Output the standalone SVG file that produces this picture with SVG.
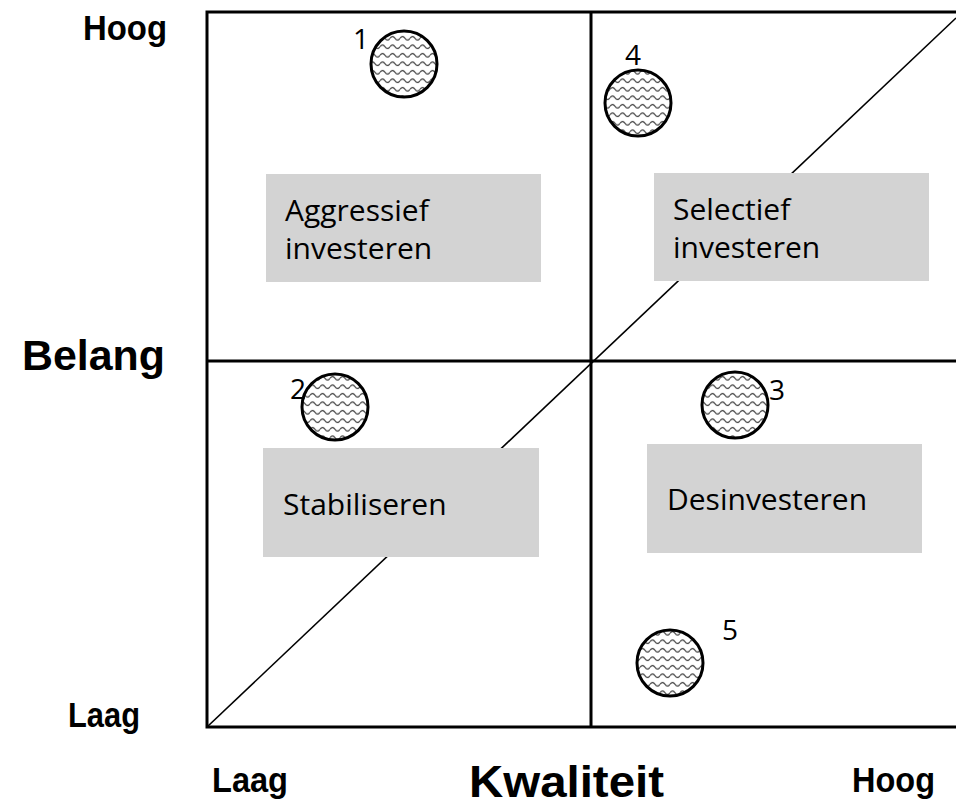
<svg xmlns="http://www.w3.org/2000/svg" width="956" height="805" viewBox="0 0 956 805">
  <style>
    .axis { font-family: "Liberation Sans", Arial, sans-serif; font-weight: bold; fill: #000; }
    .box { fill: #d3d3d3; stroke: none; }
    .boxtxt { font-family: "Open Sans", "DejaVu Sans", sans-serif; font-size: 30px; fill: #000; }
    .num { font-family: "Open Sans", "DejaVu Sans", sans-serif; font-size: 28px; fill: #000; }
    .grid { stroke: #000; stroke-width: 3; fill: none; }
    .diag { stroke: #000; stroke-width: 1.6; fill: none; }
    .dot { fill: url(#wave); stroke: #000; stroke-width: 3; }
  </style>
  <defs>
    <pattern id="wave" patternUnits="userSpaceOnUse" width="10" height="8.5">
      <rect width="10" height="8.5" fill="#fff"/>
      <path d="M0 4.25 Q2.5 0.5 5 4.25 T10 4.25" fill="none" stroke="#333" stroke-width="1.2"/>
    </pattern>
  </defs>
  <rect width="956" height="805" fill="#fff"/>

  <g id="connectors">
    <line class="diag" x1="207" y1="727" x2="956" y2="18"/>
    <polyline class="grid" points="958,12 207,12 207,727 958,727"/>
    <line class="grid" x1="591" y1="12" x2="591" y2="727"/>
    <line class="grid" x1="207" y1="361" x2="958" y2="361"/>
  </g>

  <g id="axis-labels">
    <text class="axis" x="83" y="40" font-size="35" textLength="84" lengthAdjust="spacingAndGlyphs">Hoog</text>
    <text class="axis" x="22" y="370" font-size="42" textLength="143" lengthAdjust="spacingAndGlyphs">Belang</text>
    <text class="axis" x="68" y="727" font-size="35" textLength="72" lengthAdjust="spacingAndGlyphs">Laag</text>
    <text class="axis" x="212" y="792" font-size="35" textLength="76" lengthAdjust="spacingAndGlyphs">Laag</text>
    <text class="axis" x="469" y="797" font-size="44" textLength="195" lengthAdjust="spacingAndGlyphs">Kwaliteit</text>
    <text class="axis" x="852" y="792" font-size="35" textLength="83" lengthAdjust="spacingAndGlyphs">Hoog</text>
  </g>

  <g id="aggressief">
    <rect class="box" x="266" y="174" width="275" height="108"/>
    <text class="boxtxt" x="285" y="221">Aggressief</text>
    <text class="boxtxt" x="285" y="259">investeren</text>
  </g>
  <g id="selectief">
    <rect class="box" x="654" y="173" width="275" height="108"/>
    <text class="boxtxt" x="673" y="220">Selectief</text>
    <text class="boxtxt" x="673" y="258">investeren</text>
  </g>
  <g id="stabiliseren">
    <rect class="box" x="263" y="448" width="276" height="109"/>
    <text class="boxtxt" x="283" y="515">Stabiliseren</text>
  </g>
  <g id="desinvesteren">
    <rect class="box" x="647" y="444" width="275" height="109"/>
    <text class="boxtxt" x="667" y="510">Desinvesteren</text>
  </g>

  <g id="item1">
    <circle class="dot" cx="404" cy="64" r="33"/>
    <text class="num" x="353" y="49">1</text>
  </g>
  <g id="item2">
    <circle class="dot" cx="335" cy="407" r="33"/>
    <text class="num" x="290" y="399">2</text>
  </g>
  <g id="item3">
    <circle class="dot" cx="735" cy="405" r="33"/>
    <text class="num" x="769" y="400">3</text>
  </g>
  <g id="item4">
    <circle class="dot" cx="638" cy="103" r="33"/>
    <text class="num" x="625" y="65">4</text>
  </g>
  <g id="item5">
    <circle class="dot" cx="670" cy="663" r="33"/>
    <text class="num" x="722" y="640">5</text>
  </g>
</svg>
